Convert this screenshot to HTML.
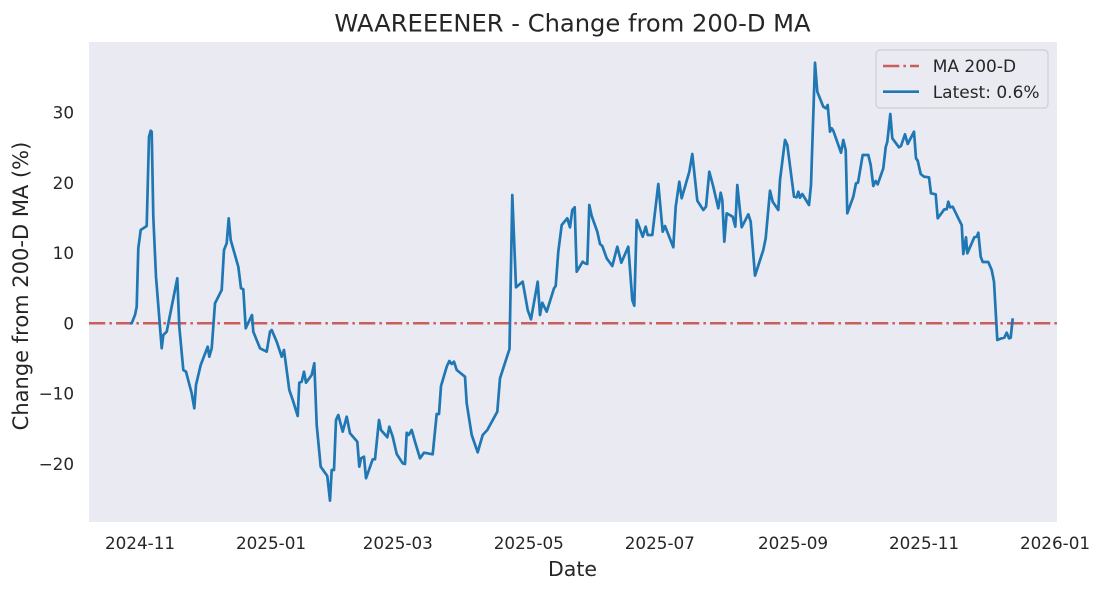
<!DOCTYPE html>
<html><head><meta charset="utf-8"><style>
html,body{margin:0;padding:0;background:#fff;}
svg{display:block;}
text{font-family:"DejaVu Sans","Liberation Sans",sans-serif;fill:#262626;}
</style></head><body>
<svg width="1104" height="592" viewBox="0 0 1104 592" xmlns="http://www.w3.org/2000/svg">
<defs><clipPath id="pa"><rect x="89" y="42" width="968" height="480"/></clipPath></defs>
<rect x="0" y="0" width="1104" height="592" fill="#ffffff"/>
<rect x="89" y="42" width="968" height="480" fill="#eaeaf2"/>
<g clip-path="url(#pa)">
<line x1="89" y1="323.3" x2="1057" y2="323.3" stroke="#cd5c5c" stroke-width="2.5" stroke-dasharray="16.3 4.1 2.5 4.1"/>
<polyline fill="none" stroke="#1f77b4" stroke-width="2.7" stroke-linejoin="round" points="130,323.3 131.7,323.3 135,315 136.7,306.7 138.3,248.3 140.7,230 146.7,226 149,136.7 150.7,130.7 151.7,131.7 153.3,216.7 156,276.7 161.7,348.3 163.3,335 166.7,331.7 177.3,278.3 179.3,326.7 183.3,370 186,371.7 191.7,393.3 194.3,408.3 196,385 200.7,365 207.7,346.7 209.3,356.7 211.7,348.3 215,303.3 221.7,290 224,250 226.7,243.3 228.7,218.3 230.7,240 238.3,266.7 241,288.3 243.3,289.3 245.7,328.3 252,315 253.3,331.7 260,348.3 266.7,351.7 270,331.7 271.7,330 276.7,341.7 281.7,356.7 284,350 286,365 289.3,390 293.3,401.7 297.7,416 299.3,382.7 301.7,381.7 304,371.7 306,382.7 311.7,375 314.3,363.3 316.7,425 320.7,466.7 327.3,476 330,500.7 331.7,470 334,470 336,420 338.3,415 342.7,431.7 346.7,416.7 350,433.3 357.3,441.7 359.3,466.7 361,458.3 364,456.7 366,478.3 372.7,459.3 375,459.3 379,420 381,430 387.3,437.3 389.3,426.7 392.7,436.7 396.7,454 402.7,463.3 405,464 406.7,432.7 408.7,435 411.7,430 415,441.7 420,458.3 424,452.7 432.7,454.3 436.7,414 439,414 441,386 446.7,366.7 449.3,361 451.7,364 454,361.7 456.7,370 465,376.7 466.7,403.3 471.7,435 477.7,452.3 482.7,435 487.3,430 497.3,411.7 500,378.3 509.5,349 512.3,195 516,287.3 522.7,281.7 527.7,310 531,319.3 537.7,281.7 540,315 542.3,302.7 546.7,311.7 554,288.3 555.7,286 558.3,251.7 561.7,225 567.3,218.3 570,227.3 572.3,210 574.7,207.3 576.7,271.7 582.7,261.7 585,263.3 587.3,264 589.3,205 591.7,216 597.3,231.7 600,244 602.3,246 606.7,258.3 612.3,266 617.3,246.7 621.3,262.7 628.3,246.7 632.3,300 634.3,305.7 636.7,220 642.7,236.7 645.7,226.7 647.7,235 652.3,235 658.3,184 662.7,231.7 665,226 673.3,247.3 675.7,206.7 679.3,181.7 681.7,198.3 689.3,171.7 692.3,154 697.3,200.7 703.3,210 706,206.7 709.3,171.7 713.3,186.7 718.3,208.3 720.7,192.7 722.3,200 724.3,241.7 726.7,213.3 732.7,216.7 735.3,226.7 737.3,185 741.7,227.3 748.3,214.3 750.7,221.7 755,275.7 763.3,250 765.7,238.3 770,190.7 772.7,201.7 778.3,210 780,180 785,140 787.3,145 794,196.7 796.7,197.3 798.3,191.7 800,197.7 802.3,194 809,205 811,185 815,62.7 817.3,91.7 823.3,106.7 826,108.3 827.7,105 830,131.7 831.7,128.3 833.3,130.7 841,152.7 843.3,140 845.7,150 847.3,213.3 853.3,196.7 856,183.3 858,182.7 862.7,155 868.3,155 870.7,165 873.3,186 875.7,181 877.7,184.3 883.3,168.3 885.7,147.3 887.3,141.7 890.3,114 892.3,138.3 899,147.3 901,146 905,134.3 907.7,144 914,131.7 916,158.3 917.7,160.7 920.7,174 924,176.7 929,177.3 931,193.3 935.7,194.3 937.7,218.3 944.3,209.3 946.7,209.3 948.3,201.7 950,207.3 952.7,206.7 960,221.7 961.7,225 963.3,254 966,237.3 967.3,253.3 974.3,237.3 976.7,236.7 978.3,232.7 980.7,256.7 982.7,262 988.3,262 991.7,270 994,281.7 997.3,340 1001.7,338.3 1004.3,337.7 1006.7,332.7 1009,338.3 1010.7,337.7 1012.7,318.3"/>
</g>
<!-- y tick labels -->
<g font-size="16.8" text-anchor="end">
<text x="74" y="118.5">30</text>
<text x="74" y="188.8">20</text>
<text x="74" y="259.1">10</text>
<text x="74" y="329.4">0</text>
<text x="74" y="399.7">−10</text>
<text x="74" y="470">−20</text>
</g>
<!-- x tick labels -->
<g font-size="16.8" text-anchor="middle">
<text x="140" y="549">2024-11</text>
<text x="271" y="549">2025-01</text>
<text x="397.8" y="549">2025-03</text>
<text x="528.8" y="549">2025-05</text>
<text x="659.8" y="549">2025-07</text>
<text x="793" y="549">2025-09</text>
<text x="924" y="549">2025-11</text>
<text x="1055" y="549">2026-01</text>
</g>
<text x="572.5" y="31.5" font-size="24.2" text-anchor="middle">WAAREEENER - Change from 200-D MA</text>
<text x="572.5" y="576" font-size="20.5" text-anchor="middle">Date</text>
<text transform="translate(27.8,286) rotate(-90)" font-size="21" text-anchor="middle">Change from 200-D MA (%)</text>
<!-- legend -->
<rect x="876" y="50" width="172" height="58" rx="4" ry="4" fill="#eaeaf2" stroke="#cfcfcf" stroke-width="1.2"/>
<line x1="883" y1="66" x2="919" y2="66" stroke="#cd5c5c" stroke-width="2.5" stroke-dasharray="16.3 4.1 2.5 4.1"/>
<line x1="883" y1="91.7" x2="919" y2="91.7" stroke="#1f77b4" stroke-width="2.7"/>
<text x="932.7" y="72.2" font-size="17">MA 200-D</text>
<text x="932.7" y="97.9" font-size="17">Latest: 0.6%</text>
</svg>
</body></html>
